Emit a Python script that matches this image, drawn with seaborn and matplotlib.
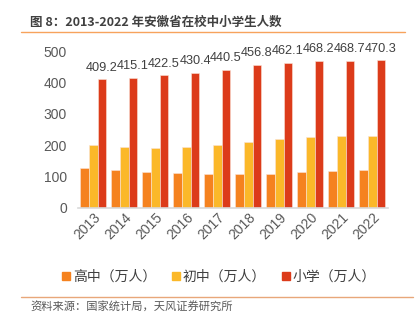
import matplotlib
matplotlib.use("Agg")
import matplotlib.pyplot as plt
import seaborn as sns
import pandas as pd
from matplotlib.lines import Line2D

years = ["2013", "2014", "2015", "2016", "2017", "2018", "2019", "2020", "2021", "2022"]
series_names = ["高中（万人）", "初中（万人）", "小学（万人）"]
senior = [126, 120, 113, 110, 108, 107, 108, 113, 116, 119]
junior = [199, 193, 191, 194, 201, 209, 218, 225, 229, 229]
primary = [409.2, 415.1, 422.5, 430.4, 440.5, 456.8, 462.1, 468.2, 468.7, 470.3]
colors = ["#F5821F", "#FBB829", "#DC3B1A"]

rows = []
for name, vals in zip(series_names, [senior, junior, primary]):
    for y, v in zip(years, vals):
        rows.append({"year": y, "series": name, "value": v})
df = pd.DataFrame(rows)

sns.set_theme(style="white")
plt.rcParams["font.family"] = ["Liberation Sans", "Noto Sans CJK SC", "DejaVu Sans"]

fig = plt.figure(figsize=(4.17, 3.23), dpi=100)
ax = fig.add_axes([0.187, 0.357, 0.743, 0.485])

sns.barplot(data=df, x="year", y="value", hue="series", hue_order=series_names,
            palette=colors, saturation=1, width=0.84, ax=ax, edgecolor="#FBE3D6",
            linewidth=0.4, legend=False)

ax.bar_label(ax.containers[2], labels=[f"{v:.1f}" for v in primary], padding=4,
             fontsize=9.2, color="#404040")

ax.set_ylim(0, 500)
ax.set_yticks([0, 100, 200, 300, 400, 500])
ax.set_xlabel("")
ax.set_ylabel("")
for s in ["top", "right", "left"]:
    ax.spines[s].set_visible(False)
ax.spines["bottom"].set_color("#D9D9D9")
ax.spines["bottom"].set_linewidth(1.2)
ax.tick_params(axis="y", length=0, pad=8, labelsize=10, labelcolor="#595959")
ax.tick_params(axis="x", length=0, pad=2, labelsize=10, labelcolor="#595959")
for lab in ax.get_xticklabels():
    lab.set_rotation(45)
    lab.set_ha("right")
    lab.set_rotation_mode("anchor")

handles = [Line2D([0], [0], marker="s", linestyle="", markersize=5.5,
                  markerfacecolor=c, markeredgecolor=c) for c in colors]
fig.legend(handles, series_names, loc="center", bbox_to_anchor=(0.522, 0.143),
           ncol=3, frameon=False, handletextpad=0.0, handlelength=1.0,
           columnspacing=0.9, labelcolor="#404040",
           prop={"family": ["Noto Sans CJK SC"], "size": 10})

fig.text(0.072, 0.930, "图 8：2013-2022 年安徽省在校中小学生人数",
         fontsize=9, fontweight="bold", color="#404040",
         family=["Noto Sans CJK SC"], va="center", ha="left")
fig.add_artist(Line2D([0.050, 0.972], [0.901, 0.901], color="#F7A35C",
                      linewidth=1.0, transform=fig.transFigure))
fig.add_artist(Line2D([0.050, 0.990], [0.080, 0.080], color="#E8A77A",
                      linewidth=1.0, transform=fig.transFigure))
fig.text(0.072, 0.050, "资料来源：国家统计局，天风证券研究所",
         fontsize=8.1, color="#595959", family=["Noto Sans CJK SC"],
         va="center", ha="left")

fig.savefig("out.png", dpi=100)
